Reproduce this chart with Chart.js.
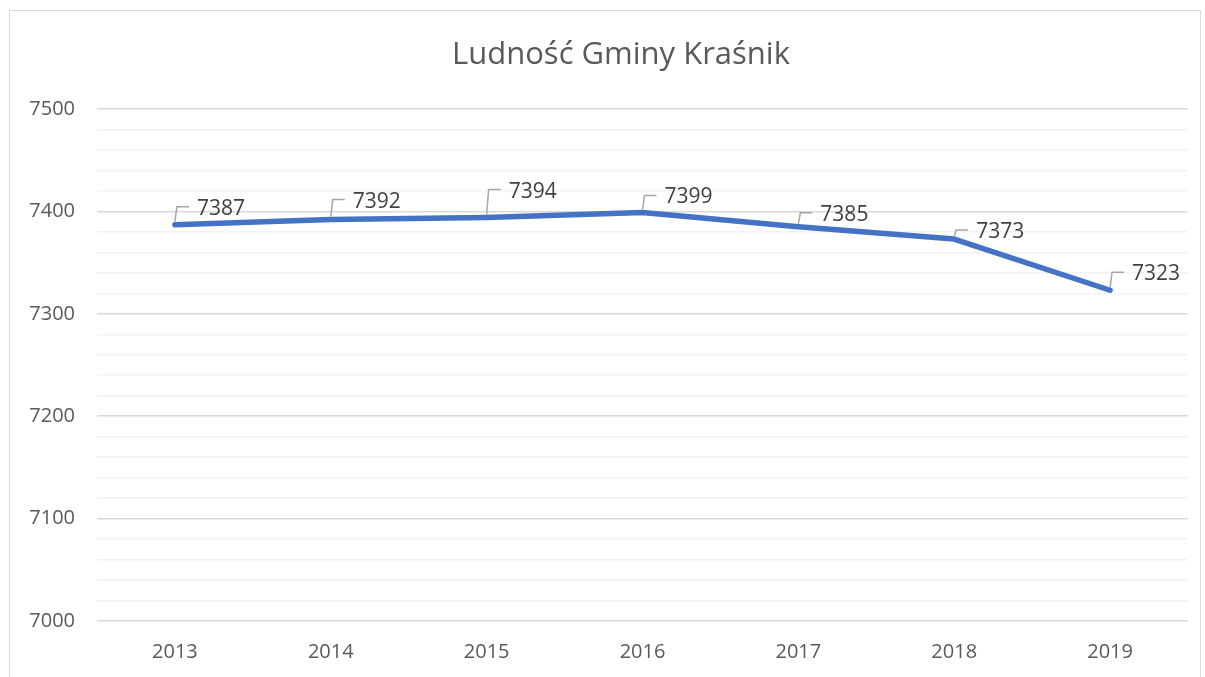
<!DOCTYPE html>
<html><head><meta charset="utf-8">
<script src="https://cdn.jsdelivr.net/npm/chart.js@4/dist/chart.umd.min.js"></script>
<style>html,body{margin:0;padding:0;background:#fff}#wrap{width:1205px;height:677px;position:relative}</style>
</head><body><div id="wrap"><canvas id="c" width="1205" height="677"></canvas></div>
<script>
const years = ['2013','2014','2015','2016','2017','2018','2019'];
const population = [7387, 7392, 7394, 7399, 7385, 7373, 7323];
const chartTitle = 'Ludność Gminy Kraśnik';
const yMin = 7000, yMax = 7500, yStep = 20, yMajor = 100;

const labelPlugin = {
  id: 'leaderLabels',
  afterDatasetsDraw(chart, args, opts) {
    const ctx = chart.ctx;
    const meta = chart.getDatasetMeta(0);
    const data = chart.data.datasets[0].data;
    ctx.save();
    meta.data.forEach((pt, i) => {
      const x = pt.x, y = pt.y;
      const cy = y + opts.dy[i];
      ctx.strokeStyle = '#a6a6a6';
      ctx.lineWidth = 1.5;
      ctx.beginPath();
      ctx.moveTo(x, y - 3);
      ctx.lineTo(x + 2, cy);
      ctx.lineTo(x + 14, cy);
      ctx.stroke();
      ctx.fillStyle = '#404040';
      ctx.font = '21px "Open Sans"';
      ctx.textAlign = 'left';
      ctx.textBaseline = 'middle';
      ctx.fillText(String(data[i]), x + 22, cy + 2);
    });
    ctx.restore();
  }
};
const framePlugin = {
  id: 'frame',
  afterDraw(chart, args, opts) {
    const ctx = chart.ctx;
    ctx.save();
    ctx.strokeStyle = '#d9d9d9';
    ctx.lineWidth = 1;
    ctx.strokeRect(9.5, 10.5, 1191, 700);
    ctx.fillStyle = '#595959';
    ctx.font = '31px "Open Sans"';
    ctx.textAlign = 'center';
    ctx.textBaseline = 'middle';
    ctx.fillText(opts.text, opts.x, opts.y);
    ctx.restore();
  }
};

new Chart(document.getElementById('c'), {
  type: 'line',
  data: {
    labels: years,
    datasets: [{
      data: population,
      borderColor: '#4472C4',
      borderWidth: 5.5,
      borderCapStyle: 'round',
      borderJoinStyle: 'round',
      pointRadius: 0,
      tension: 0,
      fill: false
    }]
  },
  options: {
    responsive: false,
    animation: false,
    devicePixelRatio: 1,
    layout: { padding: { left: 0, right: 17, top: 109, bottom: -6 } },
    plugins: {
      legend: { display: false },
      tooltip: { enabled: false },
      title: { display: false },
      frame: { text: chartTitle, x: 621, y: 55 },
      leaderLabels: { dy: [-18, -20, -28, -17, -14, -9, -18] }
    },
    scales: {
      x: {
        offset: true,
        grid: { display: false, drawTicks: false },
        border: { display: false },
        ticks: { color: '#595959', font: { family: '"Open Sans"', size: 20 }, padding: 19, maxRotation: 0 }
      },
      y: {
        min: yMin, max: yMax,
        afterFit(scale) { scale.width = 97; },
        grid: {
          drawTicks: false,
          lineWidth: 1.5,
          color: (c) => (c.tick && c.tick.value % yMajor === 0) ? '#d9d9d9' : '#f2f2f2'
        },
        border: { display: false },
        ticks: {
          stepSize: yStep,
          autoSkip: false,
          padding: 22,
          color: '#595959',
          font: { family: '"Open Sans"', size: 20 },
          callback: (v) => (v % yMajor === 0) ? String(v) : ''
        }
      }
    }
  },
  plugins: [labelPlugin, framePlugin]
});
</script>
</body></html>
